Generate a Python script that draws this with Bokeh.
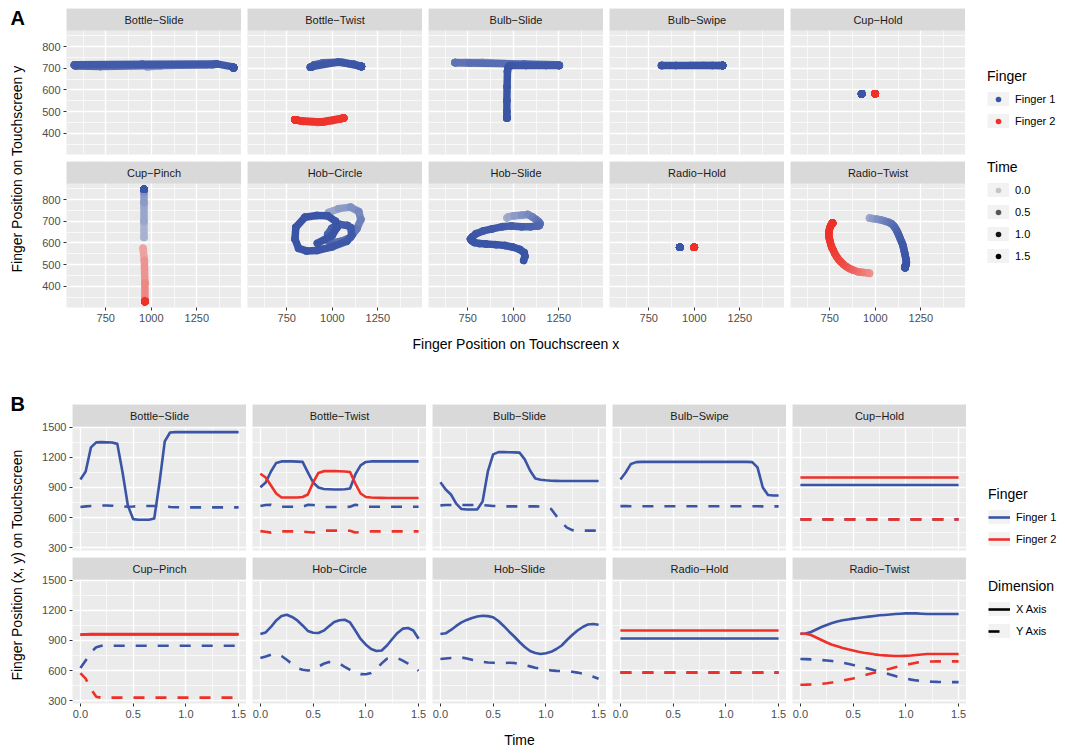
import math
from bokeh.plotting import figure
from bokeh.layouts import row, column
from bokeh.models import (Range1d, FixedTicker, Label, Legend, LegendItem,
                          NumeralTickFormatter, Spacer, BoxAnnotation)
from bokeh.embed import file_html
from bokeh.resources import INLINE

# ---------------- data ----------------
TIME = [0.00, 0.05, 0.10, 0.15, 0.20, 0.25, 0.30, 0.35, 0.40, 0.45,
        0.50, 0.55, 0.60, 0.65, 0.70, 0.75, 0.80, 0.85, 0.90, 0.95,
        1.00, 1.05, 1.10, 1.15, 1.20, 1.25, 1.30, 1.35, 1.40, 1.45, 1.50]

GESTURES = ["Bottle\u2212Slide", "Bottle\u2212Twist", "Bulb\u2212Slide", "Bulb\u2212Swipe", "Cup\u2212Hold",
            "Cup\u2212Pinch", "Hob\u2212Circle", "Hob\u2212Slide", "Radio\u2212Hold", "Radio\u2212Twist"]
FINGERS = ["Finger 1", "Finger 2"]
TIME_KEYS = [0.0, 0.5, 1.0, 1.5]
TIME_KEY_LABELS = ["0.0", "0.5", "1.0", "1.5"]
DIMENSIONS = ["X Axis", "Y Axis"]

BOTTLE_SLIDE_F1_X = [980, 1060, 1300, 1350, 1352, 1350, 1348, 1335, 1050, 720,
                     585, 578, 578, 578, 590, 950, 1360, 1448, 1452, 1452,
                     1452, 1452, 1452, 1452, 1452, 1452, 1452, 1452, 1452, 1452, 1452]
BOTTLE_SLIDE_F1_Y = [705, 712, 716, 718, 720, 720, 718, 716, 712, 708,
                     710, 714, 715, 715, 716, 718, 720, 706, 703, 703,
                     703, 702, 702, 702, 702, 702, 702, 702, 702, 702, 702]

BOTTLE_TWIST_F1_X = [903, 950, 1060, 1145, 1160, 1160, 1160, 1158, 1155, 1050,
                     950, 900, 885, 882, 880, 880, 882, 890, 1030, 1120,
                     1155, 1160, 1160, 1160, 1160, 1160, 1160, 1160, 1160, 1160, 1160]
BOTTLE_TWIST_F1_Y = [715, 725, 727, 712, 708, 708, 708, 708, 709, 727,
                     725, 715, 705, 705, 705, 705, 705, 708, 728, 718,
                     708, 708, 708, 708, 708, 708, 708, 708, 708, 708, 708]
BOTTLE_TWIST_F2_X = [1037, 1000, 920, 840, 800, 800, 800, 800, 805, 830,
                     950, 1045, 1063, 1063, 1063, 1062, 1060, 1055, 940, 840,
                     805, 800, 798, 797, 796, 795, 795, 795, 795, 795, 795]
BOTTLE_TWIST_F2_Y = [465, 458, 450, 455, 462, 462, 462, 462, 461, 456,
                     452, 466, 470, 470, 470, 470, 470, 469, 452, 455,
                     461, 462, 462, 462, 462, 462, 462, 462, 462, 462, 462]

BULB_SLIDE_F1_X = [953, 880, 830, 740, 685, 680, 680, 682, 760, 1060,
                   1230, 1253, 1253, 1252, 1250, 1248, 1180, 1070, 990, 978,
                   972, 968, 966, 965, 965, 965, 965, 965, 965, 965, 965]
BULB_SLIDE_F1_Y = [722, 725, 726, 726, 726, 726, 726, 725, 724, 720,
                   716, 714, 712, 712, 712, 712, 712, 712, 712, 710,
                   705, 685, 615, 550, 500, 475, 470, 470, 470, 470, 470]

BULB_SWIPE_F1_X = [980, 1050, 1135, 1153, 1155, 1155, 1155, 1155, 1155, 1155,
                   1155, 1155, 1155, 1155, 1155, 1155, 1155, 1155, 1155, 1155,
                   1155, 1155, 1155, 1155, 1155, 1153, 1100, 900, 825, 820, 820]
BULB_SWIPE_F1_Y = [714, 714, 713, 713, 713, 713, 713, 713, 713, 713,
                   713, 713, 713, 713, 713, 713, 713, 713, 713, 713,
                   713, 713, 713, 713, 713, 713, 713, 712, 712, 712, 712]

CUP_HOLD_F1_X = [925, 925, 925, 925, 925, 925, 925, 925, 925, 925,
                 925, 925, 925, 925, 925, 925, 925, 925, 925, 925,
                 925, 925, 925, 925, 925, 925, 925, 925, 925, 925, 925]
CUP_HOLD_F1_Y = [582, 582, 582, 582, 582, 582, 582, 582, 582, 582,
                 582, 582, 582, 582, 582, 582, 582, 582, 582, 582,
                 582, 582, 582, 582, 582, 582, 582, 582, 582, 582, 582]
CUP_HOLD_F2_X = [1000, 1000, 1000, 1000, 1000, 1000, 1000, 1000, 1000, 1000,
                 1000, 1000, 1000, 1000, 1000, 1000, 1000, 1000, 1000, 1000,
                 1000, 1000, 1000, 1000, 1000, 1000, 1000, 1000, 1000, 1000, 1000]
CUP_HOLD_F2_Y = [582, 582, 582, 582, 582, 582, 582, 582, 582, 582,
                 582, 582, 582, 582, 582, 582, 582, 582, 582, 582,
                 582, 582, 582, 582, 582, 582, 582, 582, 582, 582, 582]

CUP_PINCH_F1_X = [960, 960, 960, 960, 960, 960, 960, 960, 960, 960,
                  960, 960, 960, 960, 960, 960, 960, 960, 960, 960,
                  960, 960, 960, 960, 960, 960, 960, 960, 960, 960, 960]
CUP_PINCH_F1_Y = [625, 700, 785, 832, 848, 848, 848, 848, 848, 848,
                  848, 848, 848, 848, 848, 848, 848, 848, 848, 848,
                  848, 848, 848, 848, 848, 848, 848, 848, 848, 848, 848]
CUP_PINCH_F2_X = [955, 962, 965, 965, 965, 965, 965, 965, 965, 965,
                  965, 965, 965, 965, 965, 965, 965, 965, 965, 965,
                  965, 965, 965, 965, 965, 965, 965, 965, 965, 965, 965]
CUP_PINCH_F2_Y = [575, 520, 415, 340, 328, 330, 330, 330, 330, 330,
                  330, 330, 330, 330, 330, 330, 330, 330, 330, 330,
                  330, 330, 330, 330, 330, 330, 330, 330, 330, 330, 330]

HOB_CIRCLE_F1_X = [965, 980, 1035, 1100, 1145, 1157, 1135, 1100, 1050, 995,
                   978, 975, 998, 1041, 1084, 1102, 1107, 1080, 1000, 915,
                   858, 815, 795, 800, 850, 915, 975, 1018, 1025, 1000, 918]
HOB_CIRCLE_F1_Y = [725, 740, 758, 765, 745, 708, 665, 625, 608, 600,
                   610, 640, 668, 685, 680, 670, 636, 608, 582, 565,
                   563, 575, 618, 672, 718, 726, 725, 700, 670, 635, 598]

HOB_SLIDE_F1_X = [965, 972, 1005, 1045, 1080, 1105, 1125, 1140, 1147, 1143,
                  1132, 1095, 1045, 990, 940, 885, 835, 795, 775, 765,
                  772, 787, 815, 850, 905, 955, 1000, 1035, 1060, 1064, 1057]
HOB_SLIDE_F1_Y = [715, 720, 725, 728, 731, 720, 708, 698, 688, 680,
                  678, 675, 675, 678, 675, 665, 655, 642, 628, 618,
                  610, 602, 597, 595, 592, 588, 580, 570, 555, 538, 519]

RADIO_HOLD_F1_X = [920, 920, 920, 920, 920, 920, 920, 920, 920, 920,
                   920, 920, 920, 920, 920, 920, 920, 920, 920, 920,
                   920, 920, 920, 920, 920, 920, 920, 920, 920, 920, 920]
RADIO_HOLD_F1_Y = [580, 580, 580, 580, 580, 580, 580, 580, 580, 580,
                   580, 580, 580, 580, 580, 580, 580, 580, 580, 580,
                   580, 580, 580, 580, 580, 580, 580, 580, 580, 580, 580]
RADIO_HOLD_F2_X = [1000, 1000, 1000, 1000, 1000, 1000, 1000, 1000, 1000, 1000,
                   1000, 1000, 1000, 1000, 1000, 1000, 1000, 1000, 1000, 1000,
                   1000, 1000, 1000, 1000, 1000, 1000, 1000, 1000, 1000, 1000, 1000]
RADIO_HOLD_F2_Y = [580, 580, 580, 580, 580, 580, 580, 580, 580, 580,
                   580, 580, 580, 580, 580, 580, 580, 580, 580, 580,
                   580, 580, 580, 580, 580, 580, 580, 580, 580, 580, 580]

RADIO_TWIST_F1_X = [968, 970, 985, 1010, 1035, 1055, 1074, 1090, 1102, 1110,
                    1118, 1125, 1132, 1138, 1145, 1151, 1155, 1160, 1164, 1167,
                    1170, 1171, 1170, 1167, 1164, 1164, 1164, 1164, 1164, 1164, 1164]
RADIO_TWIST_F1_Y = [715, 714, 712, 709, 705, 700, 695, 688, 678, 668,
                    656, 644, 631, 618, 604, 591, 578, 560, 545, 530,
                    520, 510, 502, 496, 492, 489, 487, 486, 485, 485, 485]
RADIO_TWIST_F2_X = [968, 968, 955, 930, 905, 880, 858, 842, 826, 812,
                    800, 788, 778, 770, 762, 756, 752, 748, 745, 745,
                    747, 750, 755, 760, 765, 765, 765, 765, 765, 765, 765]
RADIO_TWIST_F2_Y = [459, 460, 462, 464, 467, 474, 482, 490, 500, 512,
                    522, 536, 550, 565, 578, 592, 606, 619, 633, 646,
                    657, 668, 679, 686, 689, 691, 692, 692, 692, 692, 692]

A_X_TICKS = [750, 1000, 1250]
A_X_MINOR = [625, 875, 1125, 1375]
A_Y_TICKS = [400, 500, 600, 700, 800]
A_Y_MINOR = [350, 450, 550, 650, 750, 850]
B_X_TICKS = [0.0, 0.5, 1.0, 1.5]
B_X_MINOR = [0.25, 0.75, 1.25]
B_Y_TICKS = [300, 600, 900, 1200, 1500]
B_Y_MINOR = [450, 750, 1050, 1350]

# traces per gesture: (finger index, x series, y series)
TRACES = {
    GESTURES[0]: [(0, BOTTLE_SLIDE_F1_X, BOTTLE_SLIDE_F1_Y)],
    GESTURES[1]: [(0, BOTTLE_TWIST_F1_X, BOTTLE_TWIST_F1_Y), (1, BOTTLE_TWIST_F2_X, BOTTLE_TWIST_F2_Y)],
    GESTURES[2]: [(0, BULB_SLIDE_F1_X, BULB_SLIDE_F1_Y)],
    GESTURES[3]: [(0, BULB_SWIPE_F1_X, BULB_SWIPE_F1_Y)],
    GESTURES[4]: [(0, CUP_HOLD_F1_X, CUP_HOLD_F1_Y), (1, CUP_HOLD_F2_X, CUP_HOLD_F2_Y)],
    GESTURES[5]: [(0, CUP_PINCH_F1_X, CUP_PINCH_F1_Y), (1, CUP_PINCH_F2_X, CUP_PINCH_F2_Y)],
    GESTURES[6]: [(0, HOB_CIRCLE_F1_X, HOB_CIRCLE_F1_Y)],
    GESTURES[7]: [(0, HOB_SLIDE_F1_X, HOB_SLIDE_F1_Y)],
    GESTURES[8]: [(0, RADIO_HOLD_F1_X, RADIO_HOLD_F1_Y), (1, RADIO_HOLD_F2_X, RADIO_HOLD_F2_Y)],
    GESTURES[9]: [(0, RADIO_TWIST_F1_X, RADIO_TWIST_F1_Y), (1, RADIO_TWIST_F2_X, RADIO_TWIST_F2_Y)],
}

# ---------------- style ----------------
FONT = "Liberation Sans"
BLUE = "#3A54A6"
RED = "#EE3029"
COLORS = [BLUE, RED]
PANEL_BG = "#ebebeb"
STRIP_BG = "#d9d9d9"
KEY_BG = "#f2f2f2"
NAN = float("nan")


def eff_alpha(t, k=4):
    a = 0.1 + 0.9 * t / 1.5
    return 1 - (1 - a) ** k


def blend(hex_color, e):
    h = hex_color.lstrip("#")
    r, g, b = (int(h[i:i + 2], 16) for i in (0, 2, 4))
    bg = 235
    return "#%02x%02x%02x" % (round(bg + e * (r - bg)), round(bg + e * (g - bg)), round(bg + e * (b - bg)))


def expand(vals, frac=0.05):
    lo, hi = min(vals), max(vals)
    d = (hi - lo) * frac
    return lo - d, hi + d


all_x = [v for g in GESTURES for (_, xs, ys) in TRACES[g] for v in xs]
all_y = [v for g in GESTURES for (_, xs, ys) in TRACES[g] for v in ys]
A_XR = expand(all_x)
A_YR = expand(all_y)
B_XR = expand(TIME)
B_YR = expand(all_x + all_y)


def bare_fig(w, h, left=0, top=0, bg="white"):
    f = figure(width=w, height=h, x_range=Range1d(0, 1), y_range=Range1d(0, 1),
               x_axis_location=None, y_axis_location=None, toolbar_location=None,
               output_backend="svg", min_border_left=left, min_border_right=0,
               min_border_top=top, min_border_bottom=0, background_fill_color=bg,
               border_fill_color="white", outline_line_color=None, title=None)
    f.grid.visible = False
    return f


def style_axis(ax):
    ax.axis_line_color = None
    ax.major_tick_line_color = "#333333"
    ax.major_tick_line_width = 1
    ax.major_tick_in = 0
    ax.major_tick_out = 3
    ax.minor_tick_line_color = None
    ax.major_label_text_font = FONT
    ax.major_label_text_font_size = "11px"
    ax.major_label_text_color = "#4d4d4d"
    ax.major_label_standoff = 3


STRIP_H = 22
PH = 124


def make_facet(name, w, left, top, bottom, xr, yr, show_x, show_y, xt, xm, yt, ym, xfmt=None):
    ext = (yr[1] - yr[0]) * STRIP_H / PH
    h = top + STRIP_H + PH + bottom
    p = figure(width=w, height=h, x_range=Range1d(*xr), y_range=Range1d(yr[0], yr[1] + ext),
               x_axis_location="below" if show_x else None,
               y_axis_location="left" if show_y else None,
               toolbar_location=None, output_backend="svg",
               min_border_left=left, min_border_right=0, min_border_top=top,
               min_border_bottom=bottom, background_fill_color=PANEL_BG,
               border_fill_color="white", outline_line_color=None, title=None)
    for gr in p.xgrid:
        gr.ticker = FixedTicker(ticks=xt, minor_ticks=xm)
    for gr in p.ygrid:
        gr.ticker = FixedTicker(ticks=yt, minor_ticks=ym)
    p.grid.grid_line_color = "white"
    p.grid.grid_line_width = 1.3
    p.grid.minor_grid_line_color = "white"
    p.grid.minor_grid_line_width = 0.65
    if show_x:
        p.xaxis.ticker = FixedTicker(ticks=xt)
        if xfmt is not None:
            p.xaxis.formatter = xfmt
        style_axis(p.xaxis[0])
    if show_y:
        p.yaxis.ticker = FixedTicker(ticks=yt)
        style_axis(p.yaxis[0])
    # facet strip: the band above the data range
    p.add_layout(BoxAnnotation(bottom=yr[1], fill_color=STRIP_BG, fill_alpha=1,
                               line_color=None))
    p.add_layout(Label(x=(xr[0] + xr[1]) / 2, y=yr[1] + ext / 2, text=name,
                       text_align="center", text_baseline="middle",
                       text_font=FONT, text_font_size="11px", text_color="#1a1a1a"))
    return p


def draw_a(p, g):
    for fi, xs, ys in TRACES[g]:
        base = COLORS[fi]
        pcols = [blend(base, eff_alpha(t)) for t in TIME]
        p.scatter(x=xs, y=ys, size=7.5, marker="circle", fill_color=pcols, line_color=None)
        scols = [blend(base, eff_alpha((TIME[i] + TIME[i + 1]) / 2)) for i in range(len(TIME) - 1)]
        p.segment(x0=xs[:-1], y0=ys[:-1], x1=xs[1:], y1=ys[1:], line_color=scols,
                  line_width=7.5, line_cap="round")


def draw_b(p, g):
    for fi, xs, ys in TRACES[g]:
        p.line(x=TIME, y=xs, line_color=COLORS[fi], line_width=2.6, line_join="round")
        p.line(x=TIME, y=ys, line_color=COLORS[fi], line_width=2.6, line_dash="11 11")


def legend_fig(w, h, left, title, entries):
    f = bare_fig(w, h, left=left)
    key_bg = f.line(x=[NAN], y=[NAN], line_color=KEY_BG, line_width=22, line_cap="butt")
    items = []
    for label, kind, kw in entries:
        if kind == "dot":
            r = f.scatter(x=[NAN], y=[NAN], marker="circle", size=6, line_color=None, **kw)
        else:
            r = f.line(x=[NAN], y=[NAN], line_width=2.6, **kw)
        items.append(LegendItem(label=label, renderers=[key_bg, r]))
    leg = Legend(items=items, title=title, location="top_left", orientation="vertical",
                 margin=0, padding=0, spacing=8, glyph_width=22, glyph_height=14,
                 label_height=14, label_standoff=6, title_standoff=8,
                 title_text_font=FONT, title_text_font_size="14px",
                 title_text_font_style="normal", title_text_color="black",
                 label_text_font=FONT, label_text_font_size="11px", label_text_color="black",
                 background_fill_alpha=0, border_line_color=None)
    f.add_layout(leg)
    return f


def side_title(w, h, letter, letter_y, text, text_y):
    f = bare_fig(w, h)
    f.add_layout(Label(x=2, y=letter_y, x_units="screen", y_units="screen", text=letter,
                       text_font=FONT, text_font_size="20px", text_font_style="bold",
                       text_align="left", text_baseline="middle", text_color="black"))
    f.add_layout(Label(x=8, y=text_y, x_units="screen", y_units="screen", text=text,
                       angle=math.pi / 2, text_font=FONT, text_font_size="14px",
                       text_align="center", text_baseline="middle", text_color="black"))
    return f


def bottom_title(w, h, x, y, text):
    f = bare_fig(w, h)
    f.add_layout(Label(x=x, y=y, x_units="screen", y_units="screen", text=text,
                       text_font=FONT, text_font_size="14px", text_align="center",
                       text_baseline="middle", text_color="black"))
    return f


TOTAL_W = 1049
GAP = 6

# ---------------- block A ----------------
PW_A, LEFT_A, BOT_A = 175, 40, 23
rows_a = []
for r in range(2):
    cells = []
    for c in range(5):
        g = GESTURES[r * 5 + c]
        left = LEFT_A if c == 0 else GAP
        p = make_facet(g, left + PW_A, left, 0, 7 if r == 0 else BOT_A, A_XR, A_YR,
                       r == 1, c == 0, A_X_TICKS, A_X_MINOR, A_Y_TICKS, A_Y_MINOR)
        draw_a(p, g)
        cells.append(p)
    rows_a.append(row(*cells))
grid_a = column(*rows_a)
H_A = STRIP_H + PH + 7 + STRIP_H + PH + BOT_A  # 322

left_a = side_title(18, H_A, "A", H_A - 9, "Finger Position on Touchscreen y", H_A - 160.5)
LEG_W_A = TOTAL_W - 18 - (LEFT_A + PW_A) - 4 * (GAP + PW_A)
leg_a = column(
    Spacer(width=LEG_W_A, height=60),
    legend_fig(LEG_W_A, 91, 22, "Finger",
               [(FINGERS[0], "dot", dict(fill_color=BLUE)),
                (FINGERS[1], "dot", dict(fill_color=RED))]),
    legend_fig(LEG_W_A, H_A - 151, 22, "Time",
               [(lab, "dot", dict(fill_color="black", fill_alpha=eff_alpha(t, 2)))
                for t, lab in zip(TIME_KEYS, TIME_KEY_LABELS)]),
)
block_a = row(left_a, grid_a, leg_a)
xt_a = bottom_title(TOTAL_W, 26, 18 + LEFT_A + (5 * PW_A + 4 * GAP) / 2, 13,
                    "Finger Position on Touchscreen x")

# ---------------- block B ----------------
PW_B, LEFT_B, BOT_B = 174, 46, 22
rows_b = []
for r in range(2):
    cells = []
    for c in range(5):
        g = GESTURES[r * 5 + c]
        left = LEFT_B if c == 0 else GAP
        p = make_facet(g, left + PW_B, left, 10 if r == 0 else 0, 7 if r == 0 else BOT_B,
                       B_XR, B_YR, r == 1, c == 0, B_X_TICKS, B_X_MINOR, B_Y_TICKS, B_Y_MINOR,
                       xfmt=NumeralTickFormatter(format="0.0"))
        draw_b(p, g)
        cells.append(p)
    rows_b.append(row(*cells))
grid_b = column(*rows_b)
H_B = 10 + STRIP_H + PH + 7 + STRIP_H + PH + BOT_B  # 331

left_b = side_title(18, H_B, "B", H_B - 9, "Finger Position (x, y) on Touchscreen", H_B - 170.5)
LEG_W_B = TOTAL_W - 18 - (LEFT_B + PW_B) - 4 * (GAP + PW_B)
leg_b = column(
    Spacer(width=LEG_W_B, height=92),
    legend_fig(LEG_W_B, 92, 22, "Finger",
               [(FINGERS[0], "line", dict(line_color=BLUE)),
                (FINGERS[1], "line", dict(line_color=RED))]),
    legend_fig(LEG_W_B, H_B - 184, 22, "Dimension",
               [(DIMENSIONS[0], "line", dict(line_color="black")),
                (DIMENSIONS[1], "line", dict(line_color="black", line_dash="11 11"))]),
)
block_b = row(left_b, grid_b, leg_b)
xt_b = bottom_title(TOTAL_W, 22, 18 + LEFT_B + (5 * PW_B + 4 * GAP) / 2, 8, "Time")

body = column(block_a, xt_a, Spacer(width=TOTAL_W, height=38), block_b, xt_b)
layout = column(Spacer(width=TOTAL_W + 8, height=8), row(Spacer(width=8, height=739), body))

open("out.html", "w").write(file_html(layout, INLINE))
